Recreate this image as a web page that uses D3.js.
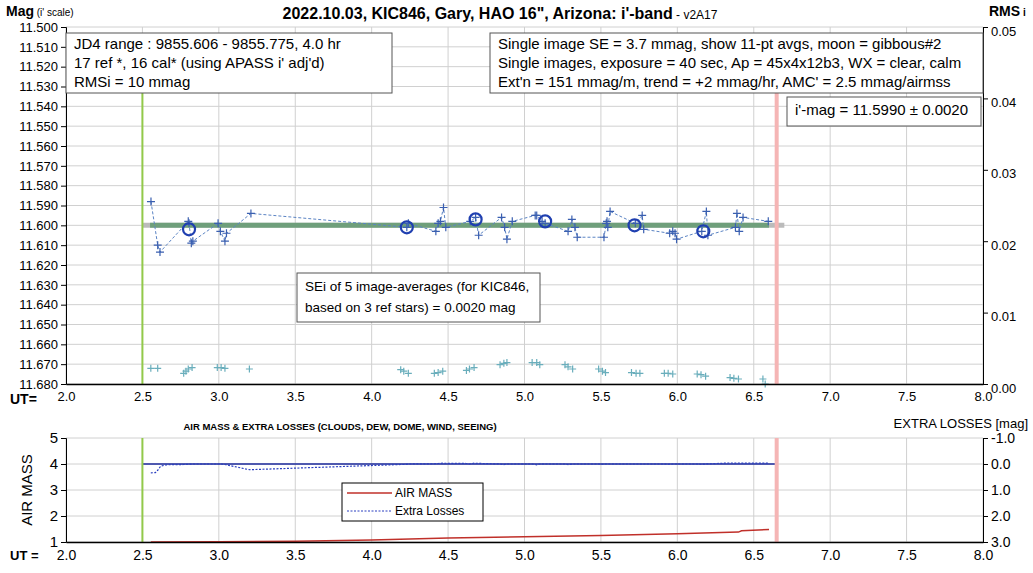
<!DOCTYPE html>
<html><head><meta charset="utf-8">
<script src="https://cdn.jsdelivr.net/npm/d3@7"></script>
<style>body{margin:0;background:#fff}text{font-family:Arial,"Liberation Sans",sans-serif}</style>
</head><body><svg width="1033" height="573"></svg>
<script>
// individual image mags (UT hr, mag)
const imgUT = [2.556,2.60,2.615,2.80,2.805,2.82,2.83,2.995,3.01,3.04,3.05,3.21,4.23,4.24,4.42,4.435,4.45,4.47,4.485,4.645,4.68,4.70,4.85,4.87,4.885,4.92,5.07,5.08,5.115,5.135,5.285,5.31,5.33,5.345,5.52,5.535,5.54,5.545,5.56,5.725,5.77,5.78,5.95,5.97,5.985,5.995,6.16,6.19,6.20,6.38,6.39,6.405,6.43,6.595];
const imgMag = [11.588,11.610,11.6135,11.598,11.599,11.609,11.608,11.599,11.603,11.608,11.604,11.594,11.601,11.599,11.603,11.599,11.598,11.591,11.601,11.598,11.596,11.605,11.596,11.601,11.607,11.598,11.595,11.595,11.598,11.599,11.603,11.597,11.601,11.606,11.606,11.599,11.598,11.601,11.593,11.599,11.595,11.602,11.604,11.603,11.604,11.607,11.603,11.593,11.605,11.601,11.594,11.603,11.596,11.598];
// 11-pt averages
const avgUT = [2.805,4.23,4.68,5.135,5.72,6.17];
const avgMag = [11.602,11.601,11.597,11.598,11.600,11.603];
// per-image RMS & extra losses
const rmsUT = [2.555,2.60,2.77,2.785,2.80,2.825,2.99,3.015,3.04,3.20,4.19,4.21,4.24,4.41,4.435,4.465,4.62,4.64,4.67,4.84,4.865,4.885,5.05,5.08,5.10,5.265,5.285,5.315,5.485,5.51,5.53,5.70,5.73,5.755,5.915,5.94,5.97,6.13,6.155,6.185,6.345,6.37,6.40,6.56,6.575];
const rmsVal = [.0022,.0022,.0015,.0018,.0021,.0023,.0023,.0023,.0022,.0021,.0020,.0018,.0015,.0015,.0016,.0018,.0019,.0021,.0023,.0027,.0029,.0030,.0030,.0030,.0027,.0027,.0024,.0021,.0021,.0018,.0016,.0016,.0015,.0015,.0015,.0015,.0014,.0014,.0013,.0011,.0009,.0008,.0007,.0007,0];
const lossUT = [2.555,2.585,2.60,2.62,2.66,2.77,2.80,2.825,2.99,3.015,3.04,3.20,4.19,4.21,4.24,4.41,4.435,4.465,4.62,4.64,4.67,4.84,4.865,4.885,5.05,5.08,5.10,5.265,5.285,5.315,5.485,5.51,5.53,5.70,5.73,5.755,5.915,5.94,5.97,6.13,6.155,6.185,6.345,6.37,6.40,6.56,6.60];
const lossVal = [.34,.33,.24,.08,.03,.02,.01,0,0,0,.02,.22,.02,.02,0,-.01,-.02,-.03,-.02,0,-.03,0,.02,0,0,.03,0,0,.02,0,0,.01,0,0,0,0,0,.01,0,0,.01,0,-.04,-.03,-.03,-.03,-.03];
const amUT = [2.555,3.0,3.5,4.0,4.5,5.0,5.5,6.0,6.4,6.42,6.6];
const amVal = [1.0,1.01,1.03,1.08,1.15,1.2,1.25,1.32,1.38,1.43,1.48];
const xTicks = [2.0,2.5,3.0,3.5,4.0,4.5,5.0,5.5,6.0,6.5,7.0,7.5,8.0];
const magTicks = d3.range(0,19).map(i => 11.5 + i*0.01);
const amTicks = [1,2,3,4,5];
const lossTicks = [-1,0,1,2,3];

const svg = d3.select("svg");
const x = d3.scaleLinear().domain([2,8]).range([66,983]);
const y = d3.scaleLinear().domain([11.5,11.68]).range([27,384]);
const yr = d3.scaleLinear().domain([0,0.05]).range([384,27]);
const ya = d3.scaleLinear().domain([1,5]).range([542,438]);
const yl = d3.scaleLinear().domain([-1,3]).range([438,542]);

function grid(g, ys, y0, y1) {
  g.selectAll(".vx").data(xTicks).join("line").attr("class","vx").attr("x1", d => x(d)).attr("x2", d => x(d))
    .attr("y1", y0).attr("y2", y1).attr("stroke", "#d0d0d0");
  g.selectAll(".hy").data(ys).join("line").attr("class","hy").attr("x1", 66).attr("x2", 983)
    .attr("y1", d => d).attr("y2", d => d).attr("stroke", "#d0d0d0");
}
// top panel
const gTop = svg.append("g");
grid(gTop, magTicks.map(y), 27, 384);
gTop.append("g").attr("transform","translate(66,0)")
  .call(d3.axisLeft(y).tickValues(magTicks).tickFormat(d3.format(".3f")).tickSize(5))
  .call(g => g.selectAll("text").attr("font-size", 13).attr("fill","#000"));
gTop.append("g").attr("transform","translate(983,0)")
  .call(d3.axisRight(yr).ticks(5).tickFormat(d3.format(".2f")).tickSize(5))
  .call(g => g.selectAll("text").attr("font-size", 13).attr("fill","#000").attr("y", 4));

// mean line
gTop.append("line").attr("x1", x(2.5)).attr("x2", x(6.7)).attr("y1", y(11.6)).attr("y2", y(11.6))
  .attr("stroke","#bbb").attr("stroke-width",5);
gTop.append("line").attr("x1", x(2.55)).attr("x2", x(6.6)).attr("y1", y(11.6)).attr("y2", y(11.6))
  .attr("stroke","#4f9460").attr("stroke-width",5).attr("opacity",0.7);

const pts = imgUT.map((u,i) => [u, imgMag[i]]);
gTop.append("path").attr("d", d3.line().x(d => x(d[0])).y(d => y(d[1]))(pts))
  .attr("fill","none").attr("stroke","#5b84c4").attr("stroke-width",1).attr("stroke-dasharray","3,2");
const cross = (g, px, py, r, c) => g.append("path")
  .attr("d", `M${px-r},${py}H${px+r}M${px},${py-r}V${py+r}`).attr("stroke", c).attr("stroke-width",1.2);
pts.forEach(d => cross(gTop, x(d[0]), y(d[1]), 4, "#3a5fb0"));
gTop.selectAll(".avg").data(avgUT).join("circle").attr("cx", d => x(d)).attr("cy", (d,i) => y(avgMag[i]))
  .attr("r",6).attr("fill","none").attr("stroke","#1f3fb0").attr("stroke-width",2.2);
rmsUT.forEach((u,i) => cross(gTop, x(u), yr(rmsVal[i]), 3.5, "#6aaebc"));

// bottom panel
const gBot = svg.append("g");
grid(gBot, amTicks.map(ya), 438, 542);
gBot.append("g").attr("transform","translate(66,0)")
  .call(d3.axisLeft(ya).tickValues(amTicks).tickFormat(d3.format("d")).tickSize(5))
  .call(g => g.selectAll("text").attr("font-size", 15).attr("fill","#000"));
gBot.append("g").attr("transform","translate(983,0)")
  .call(d3.axisRight(yl).tickValues(lossTicks).tickFormat(d => d.toFixed(1)).tickSize(5))
  .call(g => g.selectAll("text").attr("font-size", 14).attr("fill","#000"));
gBot.append("path").attr("d", d3.line().x(d => x(d[0])).y(d => ya(d[1]))(amUT.map((u,i)=>[u,amVal[i]])))
  .attr("fill","none").attr("stroke","#c0302a").attr("stroke-width",1.5);
gBot.append("line").attr("x1", x(2.5)).attr("x2", x(6.65)).attr("y1", yl(0)).attr("y2", yl(0)).attr("stroke","#1c2a9c").attr("stroke-width",1.5);
gBot.append("path").attr("d", d3.line().x(d => x(d[0])).y(d => yl(d[1]))(lossUT.map((u,i)=>[u,lossVal[i]])))
  .attr("fill","none").attr("stroke","#2a3fc0").attr("stroke-width",1.2).attr("stroke-dasharray","2,1.5");

// vertical markers
const vline = (u, y0, y1, c, w) => svg.append("line").attr("x1", x(u)).attr("x2", x(u)).attr("y1", y0).attr("y2", y1).attr("stroke", c).attr("stroke-width", w);
vline(2.5, 92, 384, "#92c94a", 2); vline(2.5, 438, 542, "#92c94a", 2);
vline(6.65, 92, 384, "#f5b5b5", 4); vline(6.65, 438, 542, "#f5b5b5", 4);

svg.append("g").attr("transform","translate(0,384)")
  .call(d3.axisBottom(x).tickValues(xTicks).tickFormat(d3.format(".1f")).tickSize(0).tickPadding(8))
  .call(g => g.selectAll("text").attr("font-size", 13).attr("fill","#000"))
  .call(g => g.select(".domain").attr("stroke-width",1.5));
svg.append("g").attr("transform","translate(0,542)")
  .call(d3.axisBottom(x).tickValues(xTicks).tickFormat(d3.format(".1f")).tickSize(0).tickPadding(8))
  .call(g => g.selectAll("text").attr("font-size", 14).attr("fill","#000"))
  .call(g => g.select(".domain").attr("stroke-width",1.5));

// texts
const txt = (s, px, py, o = {}) => svg.append("text").attr("x", px).attr("y", py).text(s)
  .attr("font-size", o.size || 15).attr("font-weight", o.bold ? "bold" : null)
  .attr("text-anchor", o.anchor || "start").attr("fill", "#000");
const t = svg.append("text").attr("x", 500).attr("y", 19).attr("text-anchor","middle").attr("font-size",16).attr("font-weight","bold");
t.append("tspan").text("2022.10.03, KIC846, Gary, HAO 16\", Arizona: i'-band");
t.append("tspan").attr("font-weight","normal").attr("font-size",12).text(" - v2A17");
const ml = svg.append("text").attr("x",6).attr("y",16).attr("font-size",14).attr("font-weight","bold");
ml.append("tspan").text("Mag"); ml.append("tspan").attr("font-size",10).attr("font-weight","normal").text(" (i' scale)");
const rl = svg.append("text").attr("x",989).attr("y",16).attr("font-size",14).attr("font-weight","bold");
rl.append("tspan").text("RMS"); rl.append("tspan").attr("font-size",10).text(" i");
txt("UT=", 10, 404, {bold:true, size:14});
txt("UT =", 10, 560, {bold:true, size:13});
txt("AIR MASS & EXTRA LOSSES (CLOUDS, DEW, DOME, WIND, SEEING)", 340, 430, {bold:true, size:9.5, anchor:"middle"});
txt("EXTRA LOSSES [mag]", 1028, 428, {size:13, anchor:"end"});
svg.append("text").attr("transform","translate(32,490) rotate(-90)").attr("text-anchor","middle").attr("font-size",15).text("AIR MASS");

function box(x0, y0, w, h, lines, size, lh) {
  svg.append("rect").attr("x",x0).attr("y",y0).attr("width",w).attr("height",h).attr("fill","#fff").attr("stroke","#555");
  lines.forEach((l,i) => txt(l, x0+8, y0+lh*(i+1)-3, {size}));
}
box(66,33,326,60,["JD4 range : 9855.606 - 9855.775, 4.0  hr","17 ref *, 16 cal* (using APASS i' adj'd)","RMSi = 10 mmag"],15,19);
box(490,33,493,60,["Single image SE = 3.7 mmag, show 11-pt avgs, moon = gibbous#2","Single images, exposure = 40 sec, Ap = 45x4x12b3, WX = clear, calm","Ext'n = 151 mmag/m, trend = +2 mmag/hr, AMC' = 2.5 mmag/airmss"],15,19);
box(787,97,194,29,["i'-mag = 11.5990 ± 0.0020"],15,21);
box(297,273,243,49,["SEi of 5 image-averages (for KIC846,","based on 3 ref stars) = 0.0020 mag"],13.5,21);

// legend
svg.append("rect").attr("x",342).attr("y",483).attr("width",141).attr("height",38).attr("fill","#fff").attr("stroke","#000");
svg.append("line").attr("x1",347).attr("x2",392).attr("y1",493).attr("y2",493).attr("stroke","#c0302a").attr("stroke-width",1.5);
svg.append("line").attr("x1",347).attr("x2",392).attr("y1",511).attr("y2",511).attr("stroke","#2a3fc0").attr("stroke-dasharray","2,1.5");
txt("AIR MASS", 395, 497, {size:12});
txt("Extra Losses", 395, 515, {size:12});
</script></body></html>
